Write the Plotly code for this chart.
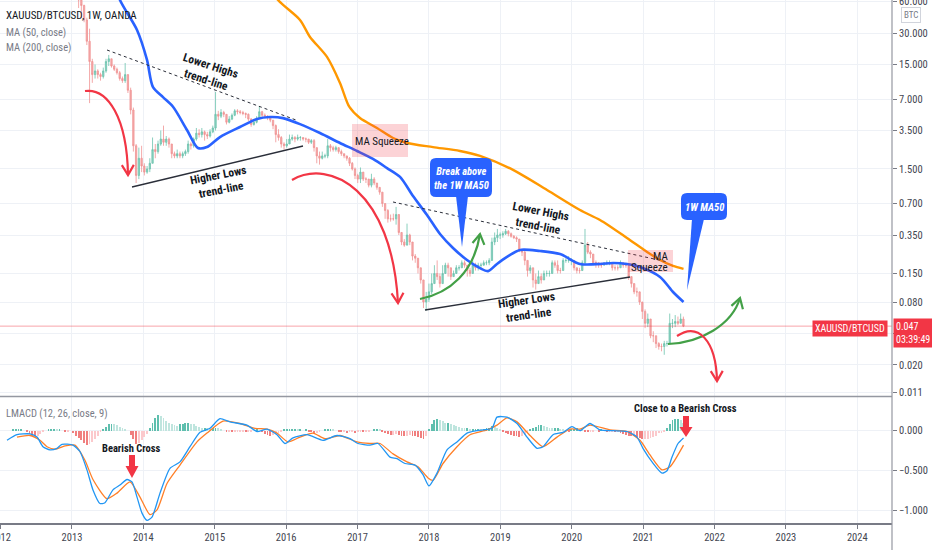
import numpy as np
import pandas as pd
import plotly.graph_objects as go

FONT = "Liberation Sans Narrow, Arial Narrow, Roboto Condensed, DejaVu Sans Condensed, Roboto, sans-serif"

# ---------------- data ----------------
candle_start = "2013-02-04"          # 2-week candles
first_open = 70
close_2013 = [62, 55, 40, 25, 16, 12, 13, 12, 11.5, 13, 16, 17, 14.5, 13.5, 12.5, 11, 10.5, 12, 8.5, 5.5, 2.5, 1.3, 1.9, 1.6]
high_2013 = [75, 62, 56, 42, 33, 17, 15, 13.5, 12.5, 14, 17, 18.5, 17, 15, 14, 13, 11.5, 15.5, 12, 9, 5.8, 2.6, 2.4, 2.5]
low_2013 = [52, 42, 38, 23, 6.4, 10, 11, 11, 10.5, 11, 12.5, 14.5, 14, 13, 12, 10.5, 10, 10, 8, 5, 2.2, 1.1, 1.2, 1.4]
close_2014 = [1.4, 1.5, 1.7, 2.3, 2.2, 2.6, 2.9, 2.7, 2.9, 2.6, 2.1, 2.0, 2.1, 2.0, 2.1, 2.2, 2.6, 2.5, 2.9, 3.3, 3.2, 3.4, 3.2, 3.1, 3.4, 3.7]
high_2014 = [1.7, 1.6, 1.9, 3.0, 2.6, 2.8, 3.5, 3.9, 3.1, 3.0, 2.6, 2.2, 2.3, 2.2, 2.2, 2.3, 2.8, 2.7, 3.0, 3.7, 3.6, 3.7, 3.5, 3.4, 3.6, 3.9]
low_2014 = [1.3, 1.35, 1.4, 1.7, 1.9, 2.1, 2.5, 2.5, 2.5, 2.4, 1.9, 1.9, 1.9, 1.9, 1.9, 2.0, 2.1, 2.3, 2.4, 2.8, 3.0, 3.0, 2.8, 2.9, 3.0, 3.3]
close_2015 = [5.0, 4.8, 5.2, 5.0, 4.2, 4.5, 4.9, 5.4, 5.3, 5.2, 5.1, 5.0, 4.5, 4.0, 4.2, 4.6, 5.3, 4.9, 4.8, 4.7, 4.4, 3.9, 3.2, 3.0, 2.6, 2.5]
high_2015 = [8.2, 5.4, 5.6, 5.4, 5.0, 4.8, 5.1, 5.6, 5.6, 5.5, 5.4, 5.2, 5.1, 4.6, 4.4, 4.8, 6.0, 5.4, 5.1, 4.9, 4.8, 4.4, 4.0, 3.6, 3.1, 2.7]
low_2015 = [3.5, 4.4, 4.6, 4.7, 4.0, 4.1, 4.4, 4.8, 5.0, 5.0, 4.9, 4.6, 4.3, 3.8, 3.9, 4.1, 4.5, 4.7, 4.6, 4.4, 4.2, 3.6, 2.7, 2.8, 2.4, 2.3]
close_2016 = [2.6, 2.9, 3.0, 2.9, 3.0, 3.0, 2.9, 2.9, 2.7, 2.8, 2.4, 2.0, 1.9, 2.0, 2.0, 2.5, 2.4, 2.3, 2.4, 2.2, 2.1, 2.0, 1.9, 1.7, 1.5, 1.3]
high_2016 = [2.9, 3.2, 3.2, 3.1, 3.2, 3.1, 3.0, 3.0, 2.9, 2.9, 2.9, 2.4, 2.2, 2.2, 2.1, 2.9, 2.6, 2.5, 2.5, 2.4, 2.3, 2.1, 2.0, 1.95, 1.75, 1.55]
low_2016 = [2.4, 2.6, 2.8, 2.7, 2.8, 2.8, 2.8, 2.7, 2.6, 2.6, 2.2, 1.7, 1.65, 1.85, 1.9, 1.9, 2.2, 2.2, 2.2, 2.1, 2.0, 1.9, 1.8, 1.6, 1.45, 1.2]
close_2017 = [1.2, 1.4, 1.2, 1.2, 1.05, 1.2, 1.1, 1.0, 0.9, 0.7, 0.6, 0.5, 0.5, 0.5, 0.55, 0.37, 0.3, 0.28, 0.35, 0.3, 0.22, 0.21, 0.17, 0.13, 0.08, 0.085]
high_2017 = [1.35, 1.55, 1.4, 1.25, 1.2, 1.35, 1.25, 1.1, 1.0, 0.9, 0.7, 0.62, 0.55, 0.56, 0.65, 0.55, 0.37, 0.32, 0.45, 0.36, 0.3, 0.23, 0.21, 0.17, 0.13, 0.1]
low_2017 = [1.1, 1.1, 1.15, 1.1, 1.0, 1.0, 1.05, 0.95, 0.85, 0.65, 0.5, 0.46, 0.47, 0.48, 0.44, 0.35, 0.28, 0.27, 0.28, 0.28, 0.2, 0.19, 0.15, 0.12, 0.07, 0.066]
close_2018 = [0.1, 0.12, 0.15, 0.14, 0.12, 0.15, 0.18, 0.17, 0.14, 0.15, 0.17, 0.17, 0.19, 0.18, 0.16, 0.15, 0.18, 0.17, 0.18, 0.18, 0.19, 0.19, 0.2, 0.3, 0.33, 0.35]
high_2018 = [0.12, 0.15, 0.18, 0.2, 0.15, 0.18, 0.19, 0.19, 0.17, 0.16, 0.18, 0.18, 0.2, 0.2, 0.18, 0.17, 0.2, 0.19, 0.19, 0.19, 0.2, 0.2, 0.21, 0.33, 0.37, 0.4]
low_2018 = [0.08, 0.095, 0.12, 0.13, 0.11, 0.12, 0.15, 0.14, 0.13, 0.14, 0.15, 0.16, 0.17, 0.17, 0.14, 0.14, 0.15, 0.16, 0.16, 0.17, 0.18, 0.18, 0.18, 0.2, 0.28, 0.3]
close_2019 = [0.35, 0.36, 0.38, 0.36, 0.34, 0.33, 0.32, 0.25, 0.24, 0.2, 0.16, 0.17, 0.13, 0.12, 0.14, 0.13, 0.15, 0.15, 0.15, 0.19, 0.18, 0.16, 0.16, 0.2, 0.2, 0.2]
high_2019 = [0.37, 0.38, 0.4, 0.39, 0.37, 0.35, 0.34, 0.32, 0.26, 0.25, 0.2, 0.18, 0.17, 0.15, 0.16, 0.15, 0.16, 0.16, 0.16, 0.2, 0.2, 0.2, 0.17, 0.21, 0.21, 0.22]
low_2019 = [0.32, 0.33, 0.35, 0.34, 0.33, 0.32, 0.3, 0.24, 0.22, 0.18, 0.14, 0.15, 0.11, 0.105, 0.12, 0.12, 0.13, 0.14, 0.14, 0.15, 0.17, 0.15, 0.15, 0.16, 0.19, 0.19]
close_2020 = [0.2, 0.17, 0.16, 0.16, 0.19, 0.28, 0.24, 0.23, 0.19, 0.19, 0.18, 0.18, 0.19, 0.19, 0.19, 0.17, 0.17, 0.17, 0.19, 0.18, 0.18, 0.14, 0.12, 0.1, 0.1, 0.08]
high_2020 = [0.21, 0.2, 0.17, 0.17, 0.2, 0.4, 0.3, 0.25, 0.23, 0.2, 0.19, 0.19, 0.19, 0.2, 0.2, 0.19, 0.18, 0.18, 0.2, 0.19, 0.19, 0.18, 0.14, 0.12, 0.11, 0.1]
low_2020 = [0.18, 0.16, 0.15, 0.15, 0.16, 0.18, 0.23, 0.21, 0.18, 0.17, 0.17, 0.17, 0.18, 0.18, 0.18, 0.16, 0.16, 0.16, 0.17, 0.17, 0.17, 0.13, 0.11, 0.095, 0.09, 0.075]
close_2021 = [0.065, 0.05, 0.055, 0.038, 0.038, 0.032, 0.03, 0.03, 0.032, 0.032, 0.05, 0.05, 0.052, 0.05, 0.055, 0.047]
high_2021 = [0.075, 0.068, 0.062, 0.052, 0.042, 0.036, 0.033, 0.032, 0.034, 0.034, 0.062, 0.055, 0.06, 0.058, 0.062, 0.058]
low_2021 = [0.055, 0.045, 0.046, 0.036, 0.033, 0.029, 0.028, 0.027, 0.025, 0.03, 0.032, 0.045, 0.046, 0.048, 0.05, 0.046]

# moving averages (decimal year, value)
ma50_t = [2013.532, 2013.672, 2013.911, 2014.051, 2014.135, 2014.275, 2014.415, 2014.611, 2014.765, 2014.891,
          2015.073, 2015.353, 2015.592, 2015.774, 2015.956, 2016.194, 2016.474, 2016.754, 2016.992, 2017.216,
          2017.413, 2017.595, 2017.777, 2017.973, 2018.155, 2018.337, 2018.533, 2018.715, 2018.827, 2018.953,
          2019.093, 2019.276, 2019.556, 2019.836, 2020.116, 2020.396, 2020.578, 2020.774, 2020.956, 2021.237,
          2021.419, 2021.566]
ma50_v = [120, 62.1, 32.1, 16.6, 9.1, 7.3, 5.9, 3.54, 2.38, 2.43,
          3.03, 3.78, 4.51, 4.71, 4.60, 4.03, 3.31, 2.66, 2.23, 1.87,
          1.53, 1.26, 0.826, 0.544, 0.358, 0.263, 0.202, 0.169, 0.158, 0.185,
          0.216, 0.252, 0.246, 0.230, 0.185, 0.185, 0.189, 0.185, 0.173, 0.139,
          0.0997, 0.080]
ma200_t = [2015.704, 2015.886, 2016.194, 2016.334, 2016.572, 2016.754, 2016.886, 2017.034, 2017.272, 2017.497,
           2017.693, 2018.057, 2018.435, 2018.715, 2019.178, 2019.654, 2020.116, 2020.396, 2020.774, 2021.055,
           2021.237, 2021.419, 2021.566]
ma200_v = [96, 62.1, 40.0, 27.5, 17.7, 9.98, 5.88, 4.61, 3.70, 2.97,
           2.66, 2.43, 2.23, 2.0, 1.47, 0.944, 0.607, 0.487, 0.328, 0.241,
           0.202, 0.177, 0.166]

# LMACD
macd_t = [2012.090, 2012.230, 2012.412, 2012.510, 2012.594, 2012.692, 2012.790, 2012.860, 2013.014, 2013.112,
          2013.210, 2013.294, 2013.392, 2013.462, 2013.574, 2013.672, 2013.771, 2013.841, 2013.911, 2013.981,
          2014.051, 2014.121, 2014.233, 2014.373, 2014.513, 2014.653, 2014.793, 2014.933, 2015.073, 2015.213,
          2015.451, 2015.592, 2015.732, 2015.872, 2015.984, 2016.096, 2016.292, 2016.516, 2016.712, 2016.894,
          2017.006, 2017.174, 2017.286, 2017.455, 2017.553, 2017.665, 2017.805, 2017.917, 2018.001, 2018.113,
          2018.253, 2018.393, 2018.533, 2018.673, 2018.883, 2018.953, 2019.093, 2019.234, 2019.374, 2019.514,
          2019.598, 2019.738, 2019.878, 2020.004, 2020.116, 2020.256, 2020.396, 2020.578, 2020.774, 2020.914,
          2020.998, 2021.125, 2021.265, 2021.335, 2021.405, 2021.489, 2021.566]
macd_v = [-0.12, -0.05, -0.04, -0.08, -0.2, -0.24, -0.22, -0.17, -0.18, -0.26,
          -0.49, -0.74, -0.91, -0.9, -0.74, -0.68, -0.61, -0.64, -0.83, -1.03,
          -1.12, -1.08, -0.78, -0.47, -0.39, -0.2, -0.02, 0.03, 0.15, 0.11,
          0.07, -0.01, 0.02, -0.05, -0.16, -0.09, -0.05, -0.12, -0.06, -0.1,
          -0.16, -0.18, -0.16, -0.33, -0.35, -0.41, -0.43, -0.55, -0.69, -0.53,
          -0.24, -0.14, -0.03, 0.0, 0.03, 0.17, 0.17, 0.09, -0.08, -0.22,
          -0.2, -0.05, -0.02, 0.05, 0.0, 0.09, 0.01, 0.0, -0.01, -0.08,
          -0.22, -0.39, -0.53, -0.5, -0.33, -0.16, -0.09]
signal_t = [2012.230, 2012.412, 2012.552, 2012.650, 2012.762, 2012.902, 2013.042, 2013.182, 2013.294, 2013.490,
            2013.631, 2013.813, 2013.953, 2014.093, 2014.191, 2014.331, 2014.513, 2014.751, 2014.891, 2015.115,
            2015.353, 2015.564, 2015.732, 2015.872, 2016.026, 2016.194, 2016.376, 2016.544, 2016.754, 2016.992,
            2017.174, 2017.315, 2017.497, 2017.693, 2017.847, 2017.987, 2018.057, 2018.197, 2018.393, 2018.575,
            2018.813, 2018.953, 2019.093, 2019.234, 2019.416, 2019.598, 2019.794, 2019.976, 2020.116, 2020.256,
            2020.536, 2020.774, 2020.956, 2021.094, 2021.265, 2021.377, 2021.566]
signal_v = [-0.08, -0.06, -0.12, -0.2, -0.23, -0.19, -0.18, -0.37, -0.61, -0.85,
            -0.78, -0.64, -0.83, -1.05, -0.99, -0.66, -0.43, -0.14, -0.03, 0.12,
            0.09, 0.03, 0.02, -0.03, -0.14, -0.08, -0.03, -0.1, -0.06, -0.14,
            -0.16, -0.16, -0.29, -0.39, -0.45, -0.59, -0.62, -0.41, -0.2, -0.05,
            0.01, 0.07, 0.16, 0.11, -0.06, -0.2, -0.08, 0.02, 0.02, 0.07,
            0.01, -0.01, -0.12, -0.3, -0.49, -0.45, -0.18]
hist_start = "2012-03-05"            # 2-week bars
hist = [0.01, 0.01, 0.01, 0.01, 0.0,
        -0.02, -0.04, -0.06, -0.07, -0.06, -0.04, -0.02,
        0.0, 0.01, 0.01, 0.02, 0.01, 0.01, 0.0, -0.01, -0.01, 0.0,
        -0.03, -0.06, -0.09, -0.12, -0.15, -0.18, -0.17, -0.14, -0.1, -0.06, -0.02,
        0.02, 0.05, 0.08, 0.09, 0.08, 0.07, 0.05, 0.04, 0.02, 0.0,
        -0.05, -0.1, -0.16, -0.15, -0.12, -0.08, -0.04,
        0.03, 0.1, 0.16, 0.2, 0.19, 0.16, 0.12,
        0.1, 0.08, 0.07, 0.06, 0.08, 0.09, 0.1, 0.1, 0.09, 0.08, 0.06,
        0.05, 0.04, 0.04, 0.03, 0.02,
        0.03, 0.04, 0.03, 0.01, 0.0, -0.01,
        -0.01, -0.02, -0.02, -0.02, -0.01, -0.01, -0.02, -0.02, -0.01, 0.0,
        0.01, 0.0, -0.02, -0.04, -0.05, -0.06, -0.05,
        -0.04, -0.03, -0.01,
        0.01, 0.02, 0.02, 0.02, 0.02, 0.01, 0.01, 0.0,
        0.01, -0.01, -0.02,
        -0.03, -0.03, -0.02,
        0.0, 0.01, 0.02, 0.02, 0.01, 0.0,
        -0.01, -0.02, -0.02, -0.03, -0.02, -0.02, -0.03, -0.02, -0.01, -0.02, -0.02, -0.01, 0.0,
        0.01, 0.02, 0.01,
        -0.02, -0.03, -0.04, -0.05, -0.05, -0.04, -0.05, -0.06, -0.07, -0.06, -0.05, -0.06, -0.07, -0.08, -0.09, -0.1,
        -0.06,
        0.02, 0.08, 0.13, 0.15, 0.14, 0.12, 0.1, 0.1, 0.09,
        0.07, 0.06, 0.05, 0.04, 0.03, 0.03, 0.02, 0.02,
        0.02, 0.02, 0.01, 0.02, 0.03, 0.04,
        0.06, 0.05, 0.03, 0.01,
        -0.01, -0.03, -0.04, -0.05, -0.06, -0.07, -0.08, -0.07, -0.05, -0.02,
        0.01, 0.03, 0.05, 0.07, 0.07, 0.06, 0.05, 0.04, 0.03,
        0.03, 0.03, 0.02, 0.01, 0.0, -0.01,
        0.01, 0.02, 0.03, 0.02, 0.01, -0.01, -0.02,
        -0.02, -0.01, 0.0, -0.01, 0.01, 0.0, -0.01,
        -0.01, -0.01, -0.02, -0.02, -0.03, -0.04, -0.05, -0.06, -0.07, -0.07, -0.08, -0.09, -0.1, -0.1, -0.1, -0.09, -0.08, -0.06, -0.03,
        -0.03, -0.01, 0.04, 0.09, 0.13, 0.15, 0.15, 0.13, 0.1]

years = list(range(2012, 2025))
year_text = [str(y) for y in years]
price_ticks = [60, 30, 15, 7, 3.5, 1.5, 0.7, 0.35, 0.15, 0.08, 0.04, 0.02, 0.011]
price_tick_text = ["60.000", "30.000", "15.000", "7.000", "3.500", "1.500", "0.700", "0.350",
                   "0.150", "0.080", "", "0.020", "0.011"]
macd_ticks = [0.0, -0.5, -1.0]
macd_tick_text = ["0.000", "\u22120.500", "\u22121.000"]
countdown = "03:39:49"

# ---------------- build ----------------
close = close_2013 + close_2014 + close_2015 + close_2016 + close_2017 + close_2018 + close_2019 + close_2020 + close_2021
high = high_2013 + high_2014 + high_2015 + high_2016 + high_2017 + high_2018 + high_2019 + high_2020 + high_2021
low = low_2013 + low_2014 + low_2015 + low_2016 + low_2017 + low_2018 + low_2019 + low_2020 + low_2021


def dec_year(idx):
    idx = pd.DatetimeIndex(idx)
    days = np.where(idx.is_leap_year, 366.0, 365.0)
    return np.asarray(idx.year + (idx.dayofyear - 1) / days, dtype=float)


cx = dec_year(pd.date_range(candle_start, periods=len(close), freq="14D"))
opens = [first_open] + close[:-1]
hi = [max(h, o, c) for h, o, c in zip(high, opens, close)]
lo = [min(l, o, c) for l, o, c in zip(low, opens, close)]
hx = dec_year(pd.date_range(hist_start, periods=len(hist), freq="14D"))
hcol = []
for i, v in enumerate(hist):
    prev = hist[i - 1] if i > 0 else v
    if v >= 0:
        hcol.append("#5fbfae" if v >= prev else "#bfe5de")
    else:
        hcol.append("#f07f7f" if v < prev else "#fbc9cc")

W, H = 932, 550
PW, PH = 892, 523
LOG_TOP, PX_PER_DEC = 1.793, 104.5
MAIN_BOTTOM_PX, MACD_TOP_PX = 396, 397
MACD_ZERO_PX, MACD_PX_PER_UNIT = 430.7, 80.0
XR = [2011.992, 2024.486]


def px(x):
    return x / PW


def py(y):
    return 1 - y / PH


fig = go.Figure()
fig.add_trace(go.Candlestick(
    x=cx, open=opens, high=hi, low=lo, close=close, xaxis="x", yaxis="y",
    increasing=dict(line=dict(color="#6cc3ad", width=0.8), fillcolor="#8fd3c2"),
    decreasing=dict(line=dict(color="#f09393", width=0.8), fillcolor="#f5abab"),
    whiskerwidth=0, hoverinfo="skip", showlegend=False))
fig.add_trace(go.Scatter(x=XR, y=[close[-1], close[-1]], mode="lines", xaxis="x", yaxis="y",
                         line=dict(color="rgba(242,54,69,0.45)", width=1), hoverinfo="skip", showlegend=False))
fig.add_trace(go.Scatter(x=ma200_t, y=ma200_v, mode="lines", line=dict(color="#ff9800", width=2.4, shape="spline", smoothing=0.8),
                         xaxis="x", yaxis="y", hoverinfo="skip", showlegend=False))
fig.add_trace(go.Scatter(x=ma50_t, y=ma50_v, mode="lines", line=dict(color="#2962ff", width=2.6, shape="spline", smoothing=0.8),
                         xaxis="x", yaxis="y", hoverinfo="skip", showlegend=False))
# MACD pane
fig.add_trace(go.Bar(x=hx, y=hist, marker=dict(color=hcol, line=dict(width=0)), width=0.012,
                     xaxis="x2", yaxis="y2", hoverinfo="skip", showlegend=False))
fig.add_trace(go.Scatter(x=signal_t, y=signal_v, mode="lines", line=dict(color="#ff7f27", width=1.3, shape="spline", smoothing=0.6),
                         xaxis="x2", yaxis="y2", hoverinfo="skip", showlegend=False))
fig.add_trace(go.Scatter(x=macd_t, y=macd_v, mode="lines", line=dict(color="#2196f3", width=1.3, shape="spline", smoothing=0.6),
                         xaxis="x2", yaxis="y2", hoverinfo="skip", showlegend=False))

GRID = "#eef1f6"
TICKF = dict(family=FONT, size=10.5, color="#434651")
main_range = [LOG_TOP - MAIN_BOTTOM_PX / PX_PER_DEC, LOG_TOP]
macd_range = [(MACD_ZERO_PX - PH) / MACD_PX_PER_UNIT, (MACD_ZERO_PX - MACD_TOP_PX) / MACD_PX_PER_UNIT]

fig.update_layout(
    width=W, height=H, margin=dict(l=0, r=W - PW, t=0, b=H - PH, autoexpand=False),
    paper_bgcolor="white", plot_bgcolor="white", bargap=0, showlegend=False,
    font=dict(family=FONT),
    xaxis=dict(domain=[0, 1], range=XR, anchor="y", tickvals=years, showticklabels=False, showgrid=True,
               gridcolor=GRID, zeroline=False, rangeslider=dict(visible=False), fixedrange=True, ticks="",
               automargin=False),
    yaxis=dict(domain=[py(MAIN_BOTTOM_PX), 1], type="log", range=main_range, side="right", anchor="x",
               tickvals=price_ticks, ticktext=price_tick_text, ticks="outside", ticklen=4, tickcolor="#787b86",
               tickfont=TICKF, showgrid=True, gridcolor=GRID, zeroline=False, ticklabeloverflow="allow",
               fixedrange=True, automargin=False),
    xaxis2=dict(domain=[0, 1], range=XR, anchor="y2", matches="x", tickvals=years, ticktext=year_text,
                ticks="outside", ticklen=4, tickcolor="#787b86", tickfont=TICKF, showgrid=True, gridcolor=GRID,
                showline=True, linecolor="#787b86", linewidth=1.5, zeroline=False, ticklabeloverflow="allow",
                fixedrange=True, automargin=False),
    yaxis2=dict(domain=[0, py(MACD_TOP_PX)], range=macd_range, side="right", anchor="x2",
                tickvals=macd_ticks, ticktext=macd_tick_text, ticks="outside", ticklen=4, tickcolor="#787b86",
                tickfont=TICKF, showgrid=True, gridcolor=GRID, zeroline=False, fixedrange=True, automargin=False),
)

shapes = []


def pth(cmds):
    out = []
    for c in cmds:
        if c[0] == "Z":
            out.append("Z")
            continue
        pts = " ".join(f"{px(x):.5f},{py(y):.5f}" for x, y in c[1:])
        out.append(f"{c[0]} {pts}")
    return " ".join(out)


def add_path(cmds, color=None, width=0, fill=None, dash=None):
    shp = dict(type="path", xref="paper", yref="paper", path=pth(cmds), layer="above",
               line=dict(color=color or "rgba(0,0,0,0)", width=width))
    if dash:
        shp["line"]["dash"] = dash
    if fill:
        shp["fillcolor"] = fill
    shapes.append(shp)


def add_line(p0, p1, color, width, dash=None):
    add_path([("M", p0), ("L", p1)], color=color, width=width, dash=dash)


def curved_arrow(p0, c1, c2, tip, color):
    add_path([("M", p0), ("C", c1, c2, tip)], color=color, width=2.2)
    dx, dy = tip[0] - c2[0], tip[1] - c2[1]
    n = (dx * dx + dy * dy) ** 0.5
    ux, uy = dx / n, dy / n
    bx, by = tip[0] - 10 * ux, tip[1] - 10 * uy
    w1 = (bx - 6 * uy, by + 6 * ux)
    w2 = (bx + 6 * uy, by - 6 * ux)
    add_path([("M", w1), ("L", tip), ("L", w2)], color=color, width=2.2)


def rrect(x0, y0, x1, y1, r):
    return [("M", (x0 + r, y0)), ("L", (x1 - r, y0)), ("Q", (x1, y0), (x1, y0 + r)), ("L", (x1, y1 - r)),
            ("Q", (x1, y1), (x1 - r, y1)), ("L", (x0 + r, y1)), ("Q", (x0, y1), (x0, y1 - r)),
            ("L", (x0, y0 + r)), ("Q", (x0, y0), (x0 + r, y0)), ("Z",)]


# trend lines
add_line((107, 50), (296, 120), "#2a2e39", 1, dash="3px,3px")
add_line((132, 187), (303, 146), "#2a2e39", 1.3)
add_line((393, 202), (668, 262), "#2a2e39", 1, dash="3px,3px")
add_line((425, 310), (630, 277), "#2a2e39", 1.3)
# MA squeeze boxes
add_path(rrect(352, 124, 408, 157, 0.01), fill="rgba(242,54,69,0.22)")
add_path(rrect(628, 250, 673, 272, 0.01), fill="rgba(242,54,69,0.22)")
# curved arrows
RED, GREEN = "#f23645", "#43a047"
curved_arrow((85, 91), (108, 88), (127, 118), (128, 175), RED)
curved_arrow((292, 180), (330, 158), (392, 190), (398, 303), RED)
curved_arrow((420, 299), (450, 293), (474, 272), (480, 234), GREEN)
curved_arrow((668, 344), (700, 343), (732, 325), (740, 298), GREEN)
curved_arrow((677, 336), (698, 322), (716, 340), (717, 381), RED)
# callouts
BLUE = "#2962ff"
add_path(rrect(430, 158, 492, 197, 6), fill=BLUE)
add_path([("M", (456, 196)), ("L", (462, 247)), ("L", (468, 196)), ("Z",)], fill=BLUE)
add_path(rrect(681, 193, 727, 220, 6), fill=BLUE)
add_path([("M", (692, 219)), ("L", (687, 290)), ("L", (704, 219)), ("Z",)], fill=BLUE)
# MACD block arrows
add_path([("M", (129, 455)), ("L", (135, 455)), ("L", (135, 466)), ("L", (138.5, 466)), ("L", (132, 478)),
          ("L", (125.5, 466)), ("L", (129, 466)), ("Z",)], fill=RED)
add_path([("M", (683, 416)), ("L", (689, 416)), ("L", (689, 427)), ("L", (692.5, 427)), ("L", (686, 437)),
          ("L", (679.5, 427)), ("L", (683, 427)), ("Z",)], fill=RED)
# pane separator and right price-scale border
shapes.append(dict(type="line", xref="paper", yref="paper", x0=0, x1=1, y0=py(396.5), y1=py(396.5),
                   line=dict(color="#9598a1", width=1.6), layer="above"))
shapes.append(dict(type="line", xref="paper", yref="paper", x0=1, x1=1, y0=py(H), y1=1,
                   line=dict(color="#9598a1", width=1.2), layer="above"))

ann = []


def txt(x, y, s, size=10.5, color="#131722", bold=False, italic=False, angle=0, xanchor="center",
        align="center", bg=None, border=None, pad=0):
    if bold:
        s = f"<b>{s}</b>"
    if italic:
        s = f"<i>{s}</i>"
    a = dict(x=px(x), y=py(y), xref="paper", yref="paper", text=s, showarrow=False, textangle=angle,
             xanchor=xanchor, yanchor="middle", align=align, font=dict(family=FONT, size=size, color=color),
             borderpad=pad)
    if bg:
        a["bgcolor"] = bg
    if border:
        a["bordercolor"] = border
        a["borderwidth"] = 1
    ann.append(a)


txt(5, 16, "XAUUSD/BTCUSD, 1W, OANDA", size=11, color="#131722", xanchor="left")
txt(5, 32, "MA (50, close)", size=10.5, color="#787b86", xanchor="left")
txt(5, 48, "MA (200, close)", size=10.5, color="#787b86", xanchor="left")
txt(5, 413, "LMACD (12, 26, close, 9)", size=10.5, color="#787b86", xanchor="left")
txt(208, 72, "Lower Highs<br>trend-line", size=11.5, bold=True, angle=18)
txt(219, 182, "Higher Lows<br>trend-line", size=11.5, bold=True, angle=-11)
txt(539, 218, "Lower Highs<br>trend-line", size=11.5, bold=True, angle=11)
txt(527, 307, "Higher Lows<br>trend-line", size=11.5, bold=True, angle=-8)
txt(382, 141, "MA Squeeze", size=11)
txt(669, 256, "MA", size=11, xanchor="right")
txt(669, 267, "Squeeze", size=11, xanchor="right")
txt(461, 178, "Break above<br>the 1W MA50", size=10.5, color="white", bold=True, italic=True)
txt(704, 207, "1W MA50", size=10.5, color="white", bold=True, italic=True)
txt(131, 448, "Bearish Cross", size=10.5, bold=True)
txt(685, 408, "Close to a Bearish Cross", size=10.5, bold=True)
txt(911, 15, "BTC", size=9, color="#787b86", border="#d1d4dc", pad=2)
txt(888, 328, "XAUUSD/BTCUSD", size=10, color="white", xanchor="right", bg="#f23645", pad=2)
txt(893, 333, f"{close[-1]:.3f}<br>{countdown}", size=10, color="white", xanchor="left", align="left",
    bg="#f23645", pad=2)

fig.update_layout(shapes=shapes, annotations=ann)
fig.write_html("out.html", config={"displayModeBar": False},
               post_script="document.body.style.margin='0';document.body.style.overflow='hidden';")
